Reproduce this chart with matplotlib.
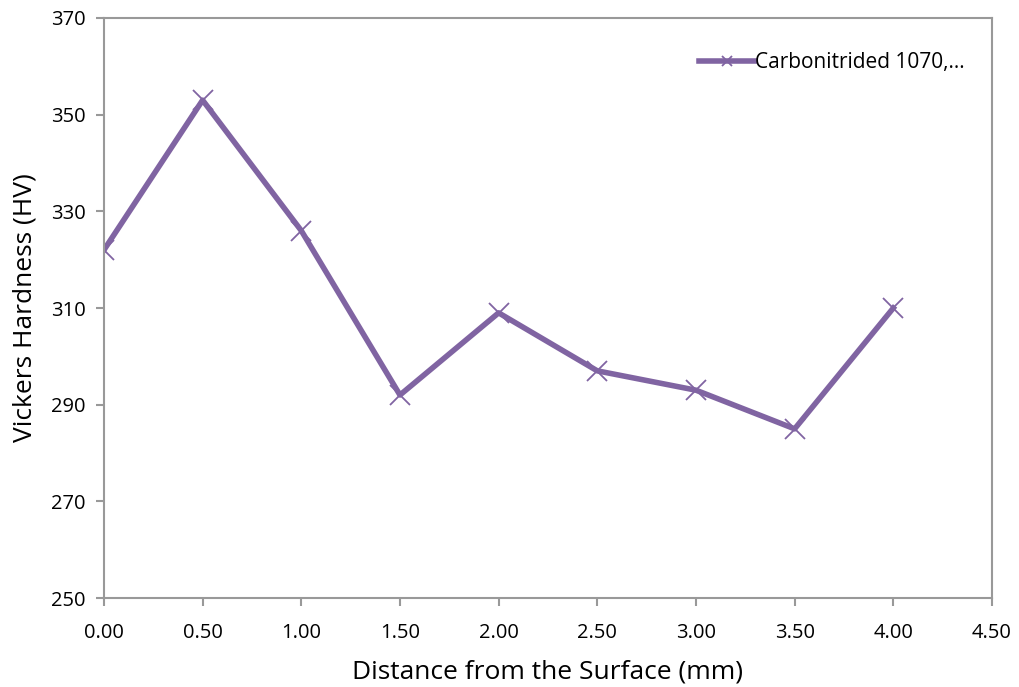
import matplotlib
matplotlib.use("Agg")
import matplotlib.pyplot as plt

plt.rcParams['font.family'] = ['Open Sans', 'DejaVu Sans']

# data
distance = [0.0, 0.5, 1.0, 1.5, 2.0, 2.5, 3.0, 3.5, 4.0]
hardness = [322, 353, 326, 292, 309, 297, 293, 285, 310]
series_name = 'Carbonitrided 1070,...'
x_ticks = [0.0, 0.5, 1.0, 1.5, 2.0, 2.5, 3.0, 3.5, 4.0, 4.5]
y_ticks = [250, 270, 290, 310, 330, 350, 370]

purple = '#8064A2'
grey = '#999999'

fig = plt.figure(figsize=(10.19, 6.87), dpi=100)
ax = fig.add_axes([0.102, 0.1295, 0.8715, 0.8443])

ax.plot(distance, hardness, color=purple, lw=4, marker='x', ms=14,
        mew=1.3, mec=purple, label=series_name)

ax.set_xlim(0, 4.5)
ax.set_ylim(250, 370)
ax.set_xticks(x_ticks)
ax.set_xticklabels([f'{v:.2f}' for v in x_ticks])
ax.set_yticks(y_ticks)

for s in ax.spines.values():
    s.set_color(grey)
    s.set_linewidth(1.5)
ax.tick_params(axis='both', colors=grey, labelcolor='black', labelsize=14.5,
               length=6, width=1.5, direction='out')
ax.tick_params(axis='x', pad=12)
ax.tick_params(axis='y', pad=7)

ax.set_xlabel('Distance from the Surface (mm)', fontsize=19, labelpad=12)
ax.set_ylabel('Vickers Hardness (HV)', fontsize=19, labelpad=10)

leg = ax.legend(loc='upper right', bbox_to_anchor=(0.979, 0.955), frameon=False,
                fontsize=15, handlelength=2.7, handletextpad=0.0,
                markerscale=0.55, borderaxespad=0)

fig.savefig('out.png', dpi=100)
